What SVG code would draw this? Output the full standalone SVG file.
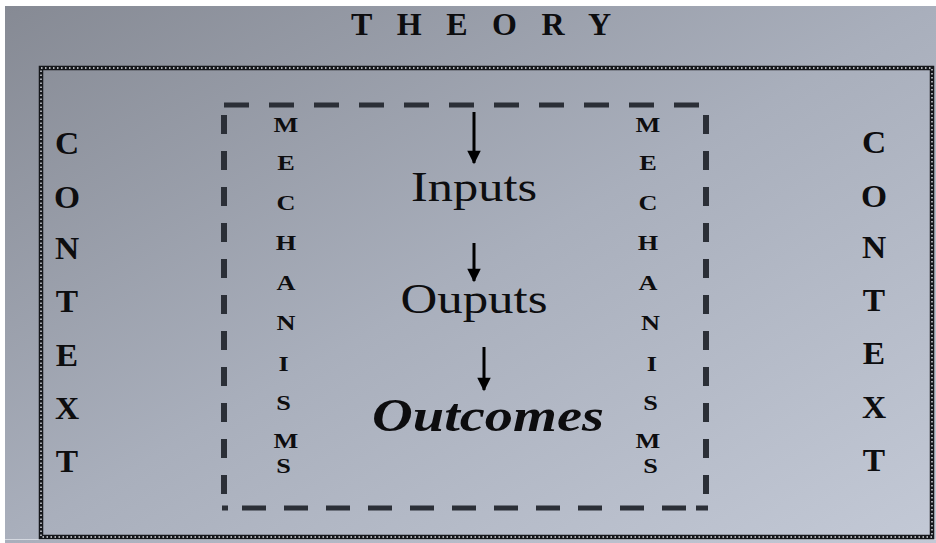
<svg xmlns="http://www.w3.org/2000/svg" width="936" height="543" viewBox="0 0 936 543">
<defs>
<linearGradient id="bg" x1="0" y1="0" x2="1" y2="1">
<stop offset="0" stop-color="#868a94"/>
<stop offset="0.5" stop-color="#a9afbc"/>
<stop offset="1" stop-color="#c3c9d6"/>
</linearGradient>
<marker id="ah" viewBox="0 0 10 10" refX="9" refY="5" markerWidth="5" markerHeight="4.5" markerUnits="strokeWidth" orient="auto">
<path d="M0,0 L10,5 L0,10 z" fill="#000"/>
</marker>
<style>
.cap{font-family:"Liberation Serif","Times New Roman",serif;font-weight:bold;fill:#0d0d0f;text-anchor:middle}
.ctx{font-size:31px}
.mech{font-size:21px}
.big{font-family:"Liberation Serif","Times New Roman",serif;fill:#0d0d0f;text-anchor:middle}
.dash{stroke:#2b2f37;fill:none}
.arrow{stroke:#000;stroke-width:3;fill:none;marker-end:url(#ah)}
</style>
</defs>
<rect width="936" height="543" fill="#ffffff"/>
<rect x="5" y="6" width="931" height="537" fill="url(#bg)"/>
<line x1="5" y1="539.5" x2="936" y2="539.5" stroke="#d4d8e0" stroke-width="1"/>

<g id="frame">
<rect x="41" y="68" width="891" height="469" fill="none" stroke="#15171b" stroke-width="4.5"/>
<rect x="41" y="68" width="891" height="469" fill="none" stroke="#dfe2e8" stroke-width="1.4" stroke-dasharray="1.5 2.5"/>
</g>

<g id="title">
<text class="cap" x="481" y="35" font-size="32" textLength="260" lengthAdjust="spacing">THEORY</text>
</g>

<g id="box">
<line class="dash" stroke-width="5" x1="224" y1="105" x2="708" y2="105" stroke-dasharray="25 20"/>
<line class="dash" stroke-width="6" x1="224" y1="115" x2="224" y2="508" stroke-dasharray="19 17"/>
<line class="dash" stroke-width="6" x1="706" y1="115" x2="706" y2="508" stroke-dasharray="19 17"/>
<line class="dash" stroke-width="5" x1="222" y1="508" x2="708" y2="508" stroke-dasharray="6 14 24 18 24 18 24 18 24 18 24 18 24 18 24 18 24 18 24 18 24 18 24 10 6 0"/>
</g>

<g id="context-left">
<text class="cap ctx" transform="translate(67,0) scale(1.08,1)">
<tspan x="0" y="154">C</tspan><tspan x="0" y="208">O</tspan><tspan x="0" y="259">N</tspan><tspan x="0" y="312">T</tspan><tspan x="0" y="366">E</tspan><tspan x="0" y="419">X</tspan><tspan x="0" y="472">T</tspan>
</text>
</g>
<g id="context-right">
<text class="cap ctx" transform="translate(874,0) scale(1.08,1)">
<tspan x="0" y="153">C</tspan><tspan x="0" y="207">O</tspan><tspan x="0" y="258">N</tspan><tspan x="0" y="311">T</tspan><tspan x="0" y="364">E</tspan><tspan x="0" y="418">X</tspan><tspan x="0" y="471">T</tspan>
</text>
</g>

<g id="mechanisms-left">
<text class="cap mech" transform="translate(286,0) scale(1.25,1)">
<tspan x="0" y="132">M</tspan><tspan x="0" y="170">E</tspan><tspan x="0" y="210">C</tspan><tspan x="0" y="250">H</tspan><tspan x="0" y="290">A</tspan><tspan x="0" y="330">N</tspan><tspan x="-2" y="371">I</tspan><tspan x="-2" y="410">S</tspan><tspan x="0" y="448">M</tspan><tspan x="-2" y="473">S</tspan>
</text>
</g>
<g id="mechanisms-right">
<text class="cap mech" transform="translate(648,0) scale(1.25,1)">
<tspan x="0" y="132">M</tspan><tspan x="0" y="170">E</tspan><tspan x="0" y="210">C</tspan><tspan x="0" y="250">H</tspan><tspan x="0" y="290">A</tspan><tspan x="2" y="330">N</tspan><tspan x="3" y="371">I</tspan><tspan x="2" y="410">S</tspan><tspan x="0" y="448">M</tspan><tspan x="2" y="473">S</tspan>
</text>
</g>

<g id="inputs">
<text class="big" x="474" y="201" font-size="43" textLength="126" lengthAdjust="spacingAndGlyphs">Inputs</text>
</g>
<g id="outputs">
<text class="big" x="474" y="313" font-size="43" textLength="147" lengthAdjust="spacingAndGlyphs">Ouputs</text>
</g>
<g id="outcomes">
<text class="big" x="488" y="431" font-size="46" font-weight="bold" font-style="italic" textLength="232" lengthAdjust="spacingAndGlyphs">Outcomes</text>
</g>

<g id="connectors">
<line class="arrow" x1="474" y1="112" x2="474" y2="163"/>
<line class="arrow" x1="474" y1="243" x2="474" y2="281"/>
<line class="arrow" x1="484" y1="347" x2="484" y2="390"/>
</g>
</svg>
